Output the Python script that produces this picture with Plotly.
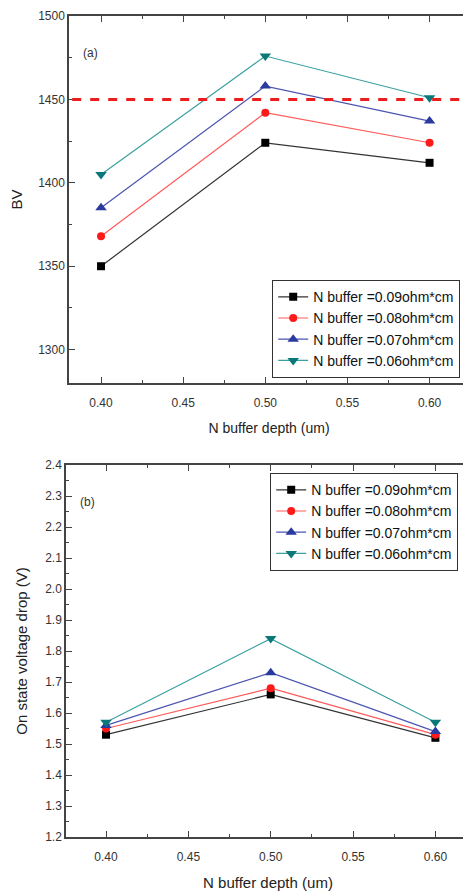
import plotly.graph_objects as go

depth = [0.40, 0.50, 0.60]
names = ["N buffer =0.09ohm*cm", "N buffer =0.08ohm*cm",
         "N buffer =0.07ohm*cm", "N buffer =0.06ohm*cm"]
bv = [
    [1350, 1424, 1412],
    [1368, 1442, 1424],
    [1385, 1458, 1437],
    [1405, 1476, 1451],
]
vdrop = [
    [1.53, 1.66, 1.52],
    [1.55, 1.68, 1.53],
    [1.56, 1.73, 1.54],
    [1.57, 1.84, 1.57],
]
bv_limit = 1450

marker_colors = ["#000000", "#ff1a1a", "#2a3a9e", "#0a7878"]
line_colors = ["#333333", "#ff5a5a", "#4a55b0", "#3aa0a0"]
symbols = ["square", "circle", "triangle-up", "triangle-down"]
sizes = [8, 8, 10, 10]

# page body has an 8px default margin
OFF = 8
W, H = 471 - OFF, 894 - OFF
FONT = "Liberation Sans, Arial, sans-serif"

fig = go.Figure()
for i in range(4):
    fig.add_trace(go.Scatter(
        x=depth, y=bv[i], name=names[i], mode="lines+markers",
        line=dict(color=line_colors[i], width=1.2),
        marker=dict(color=marker_colors[i], symbol=symbols[i], size=sizes[i]),
        xaxis="x", yaxis="y", legend="legend"))
for i in range(4):
    fig.add_trace(go.Scatter(
        x=depth, y=vdrop[i], name=names[i], mode="lines+markers",
        line=dict(color=line_colors[i], width=1.2),
        marker=dict(color=marker_colors[i], symbol=symbols[i], size=sizes[i]),
        xaxis="x2", yaxis="y2", legend="legend2"))

def px_x(p):
    return (p - OFF) / W

def px_y(p):
    return 1 - (p - OFF) / H

axis_common = dict(
    showline=True, linecolor="#444444", linewidth=1.5, mirror="allticks",
    ticks="inside", ticklen=6, tickwidth=1.2, tickcolor="#444444",
    showgrid=False, zeroline=False, automargin=False,
    tickfont=dict(family=FONT, size=12, color="#333333"),
)

fig.update_layout(
    width=W, height=H, margin=dict(l=0, r=0, t=0, b=0, autoexpand=False),
    paper_bgcolor="white", plot_bgcolor="white",
    font=dict(family=FONT, color="#222222"),
    xaxis=dict(axis_common, domain=[px_x(69), px_x(469)], anchor="y",
               range=[0.3805, 0.624], tickvals=[0.40, 0.45, 0.50, 0.55, 0.60],
               tickformat=".2f", ticklabelstandoff=8,
               minor=dict(ticks="inside", ticklen=3, dtick=0.025, tickcolor="#444444"),
               title=dict(text="N buffer depth (um)", font=dict(family=FONT, size=14, color="#222222"),
                          standoff=14)),
    yaxis=dict(axis_common, domain=[px_y(383), px_y(16)], anchor="x",
               range=[1280, 1500], dtick=50,
               minor=dict(ticks="inside", ticklen=3, dtick=25, tickcolor="#444444"),
               title=dict(text="BV", font=dict(family=FONT, size=15, color="#222222"),
                          standoff=12)),
    xaxis2=dict(axis_common, domain=[px_x(66), px_x(470)], anchor="y2",
                range=[0.3757, 0.621], tickvals=[0.40, 0.45, 0.50, 0.55, 0.60],
                tickformat=".2f", ticklabelstandoff=8,
                minor=dict(ticks="inside", ticklen=3, dtick=0.025, tickcolor="#444444"),
                title=dict(text="N buffer depth (um)", font=dict(family=FONT, size=15, color="#222222"),
                           standoff=14)),
    yaxis2=dict(axis_common, domain=[px_y(837), px_y(465)], anchor="x2",
                range=[1.2, 2.4], dtick=0.1, tickformat=".1f",
                minor=dict(ticks="inside", ticklen=3, dtick=0.05, tickcolor="#444444"),
                title=dict(text="On state voltage drop (V)",
                           font=dict(family=FONT, size=15, color="#222222"), standoff=14)),
    legend=dict(x=px_x(272), y=px_y(280), xanchor="left", yanchor="top",
                bgcolor="white", bordercolor="#333333", borderwidth=1.2,
                font=dict(family=FONT, size=14, color="#111111"),
                tracegroupgap=0, itemwidth=30),
    legend2=dict(x=px_x(270), y=px_y(473), xanchor="left", yanchor="top",
                 bgcolor="white", bordercolor="#333333", borderwidth=1.2,
                 font=dict(family=FONT, size=14, color="#111111"),
                 tracegroupgap=0, itemwidth=30),
    showlegend=True,
)

fig.add_shape(type="line", xref="x domain", yref="y", x0=0.008, x1=0.985,
              y0=bv_limit, y1=bv_limit,
              line=dict(color="#ee1c1c", width=3, dash="dash"))

fig.add_annotation(text="(a)", xref="x domain", yref="y domain", x=0.03, y=0.9,
                   xanchor="left", yanchor="middle", showarrow=False,
                   font=dict(family=FONT, size=12, color="#333333"))
fig.add_annotation(text="(b)", xref="x2 domain", yref="y2 domain", x=0.03, y=0.9,
                   xanchor="left", yanchor="middle", showarrow=False,
                   font=dict(family=FONT, size=12, color="#333333"))

fig.write_html("out.html")
